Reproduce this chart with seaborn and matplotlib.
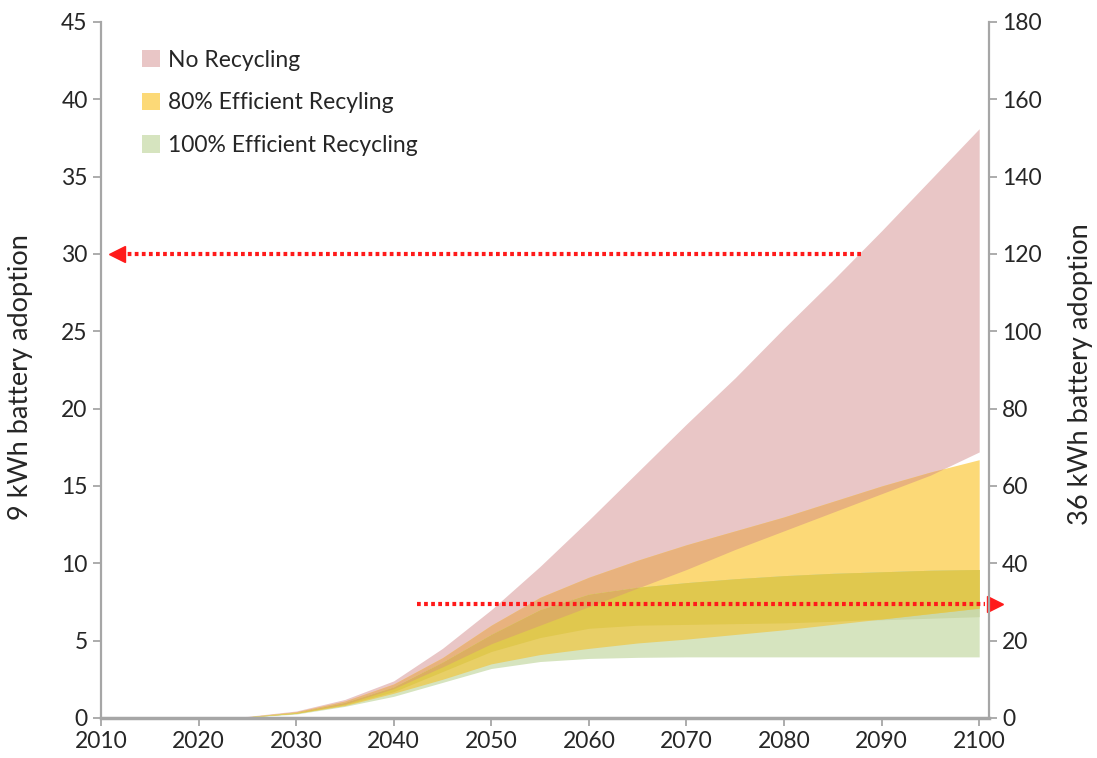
import numpy as np
import matplotlib.pyplot as plt
import seaborn as sns
from matplotlib.patches import Patch

# ---- data ----
years = [2020, 2025, 2030, 2035, 2040, 2045, 2050, 2055, 2060,
         2065, 2070, 2075, 2080, 2085, 2090, 2095, 2100]

no_rec_high = [0.0, 0.1, 0.45, 1.2, 2.4, 4.5, 7.0, 9.8, 12.8,
               15.9, 19.0, 22.0, 25.2, 28.3, 31.5, 34.8, 38.1]
no_rec_low = [0.0, 0.08, 0.35, 0.9, 1.9, 3.3, 4.8, 6.0, 7.2,
              8.4, 9.6, 10.9, 12.1, 13.3, 14.5, 15.7, 17.2]

rec80_high = [0.0, 0.08, 0.4, 1.1, 2.2, 3.9, 6.0, 7.8, 9.1,
              10.2, 11.2, 12.1, 13.0, 14.0, 15.0, 15.9, 16.7]
rec80_low = [0.0, 0.05, 0.3, 0.8, 1.6, 2.5, 3.5, 4.1, 4.5,
             4.85, 5.1, 5.4, 5.7, 6.05, 6.4, 6.75, 7.1]

rec100_high = [0.0, 0.07, 0.35, 1.0, 2.0, 3.6, 5.4, 7.0, 8.0,
               8.45, 8.75, 9.0, 9.2, 9.35, 9.45, 9.55, 9.6]
rec100_low = [0.0, 0.05, 0.25, 0.75, 1.4, 2.3, 3.2, 3.65, 3.85,
              3.92, 3.95, 3.95, 3.95, 3.95, 3.95, 3.95, 3.95]
# darker inner part of the 100% band (lower edge; top is rec100_high)
rec100_core_low = [0.0, 0.06, 0.3, 0.85, 1.7, 3.0, 4.3, 5.2, 5.8,
                   6.0, 6.05, 6.1, 6.15, 6.25, 6.35, 6.45, 6.55]

labels = ["No Recycling", "80% Efficient Recyling", "100% Efficient Recycling"]

left_arrow = {"y": 30, "x_from": 2087.9, "x_to": 2012.0}
right_arrow = {"y": 7.4, "x_from": 2042.4, "x_to": 2100.6}

# ---- style ----
sns.set_theme(style="ticks")
plt.rcParams['font.family'] = ['Lato', 'DejaVu Sans']

PINK = "#E9C6C6"
YELLOW = "#FCD977"
GREEN = "#D6E4BF"
PINK_YELLOW = "#E8B27E"
PINK_GREEN = "#D9C3A8"
YELLOW_GREEN = "#E8CF66"
GREEN_CORE = "#CAD8A8"
YELLOW_CORE = "#E0C84E"
ALL_THREE = "#DCAE62"
AXIS_GREY = "#A6A6A6"
TEXT = "#262626"

x = np.array(years, dtype=float)
bands = {
    "p": (np.array(no_rec_low), np.array(no_rec_high)),
    "y": (np.array(rec80_low), np.array(rec80_high)),
    "g": (np.array(rec100_low), np.array(rec100_high)),
    "c": (np.array(rec100_core_low), np.array(rec100_high)),
}


def overlap(keys):
    lo = np.max([bands[k][0] for k in keys], axis=0)
    hi = np.min([bands[k][1] for k in keys], axis=0)
    return lo, hi


fig, ax = plt.subplots(figsize=(10.97, 7.58), dpi=100)
fig.subplots_adjust(left=0.092, right=0.9015, top=0.971, bottom=0.0528)

# single bands
for key, col in [("p", PINK), ("y", YELLOW), ("g", GREEN)]:
    lo, hi = bands[key]
    ax.fill_between(x, lo, hi, color=col, linewidth=0)

# overlaps (drawn as a multiply-style blend)
for keys, col in [(("p", "y"), PINK_YELLOW), (("p", "g"), PINK_GREEN),
                  (("g", "c"), GREEN_CORE), (("y", "g"), YELLOW_GREEN),
                  (("y", "c"), YELLOW_CORE), (("p", "y", "g"), ALL_THREE)]:
    lo, hi = overlap(keys)
    ax.fill_between(x, lo, hi, where=hi > lo, interpolate=True,
                    color=col, linewidth=0)

# dotted arrows
RED = "#FF1A1A"
ax.plot([left_arrow["x_from"], left_arrow["x_to"]], [left_arrow["y"]] * 2,
        color=RED, lw=3, linestyle=(0, (0.9, 0.8)), zorder=5)
ax.plot([left_arrow["x_to"] - 0.4], [left_arrow["y"]], marker="<",
        color=RED, markersize=11, zorder=6, clip_on=False)
ax.plot([right_arrow["x_from"], right_arrow["x_to"]], [right_arrow["y"]] * 2,
        color=RED, lw=3, linestyle=(0, (0.9, 0.8)), zorder=5, clip_on=False)
ax.plot([right_arrow["x_to"] + 1.0], [right_arrow["y"]], marker=">",
        color=RED, markersize=11, zorder=6, clip_on=False)

# axes
ax.set_xlim(2010, 2101)
ax.set_ylim(0, 45)
ax.set_xticks(range(2010, 2101, 10))
ax.set_yticks(range(0, 46, 5))
ax.set_ylabel("9 kWh battery adoption", fontsize=19.5, color=TEXT)
ax.yaxis.set_label_coords(-0.077, 0.49)

ax2 = ax.twinx()
ax2.set_ylim(0, 180)
ax2.set_yticks(range(0, 181, 20))
ax2.set_ylabel("36 kWh battery adoption", fontsize=19.5, color=TEXT)
ax2.yaxis.set_label_coords(1.089, 0.494)

for a in (ax, ax2):
    a.spines["top"].set_visible(False)
    for side in ("left", "right", "bottom"):
        a.spines[side].set_color(AXIS_GREY)
        a.spines[side].set_linewidth(1.6)
    a.tick_params(axis="both", colors=AXIS_GREY, labelcolor=TEXT,
                  labelsize=16.5, length=6, width=1.3, direction="out")
ax.spines["right"].set_visible(False)
ax2.spines["left"].set_visible(False)
ax2.spines["bottom"].set_visible(False)
ax.spines["bottom"].set_linewidth(2.5)

# legend
handles = [Patch(facecolor=c, edgecolor="none") for c in (PINK, YELLOW, GREEN)]
leg = ax.legend(handles, labels, loc="upper left", bbox_to_anchor=(0.023, 0.99),
                frameon=False, fontsize=16.5, handlelength=0.8, handleheight=0.8,
                handletextpad=0.35, labelspacing=0.95)
for t in leg.get_texts():
    t.set_color(TEXT)

fig.savefig("out.png", dpi=100, facecolor="white")
